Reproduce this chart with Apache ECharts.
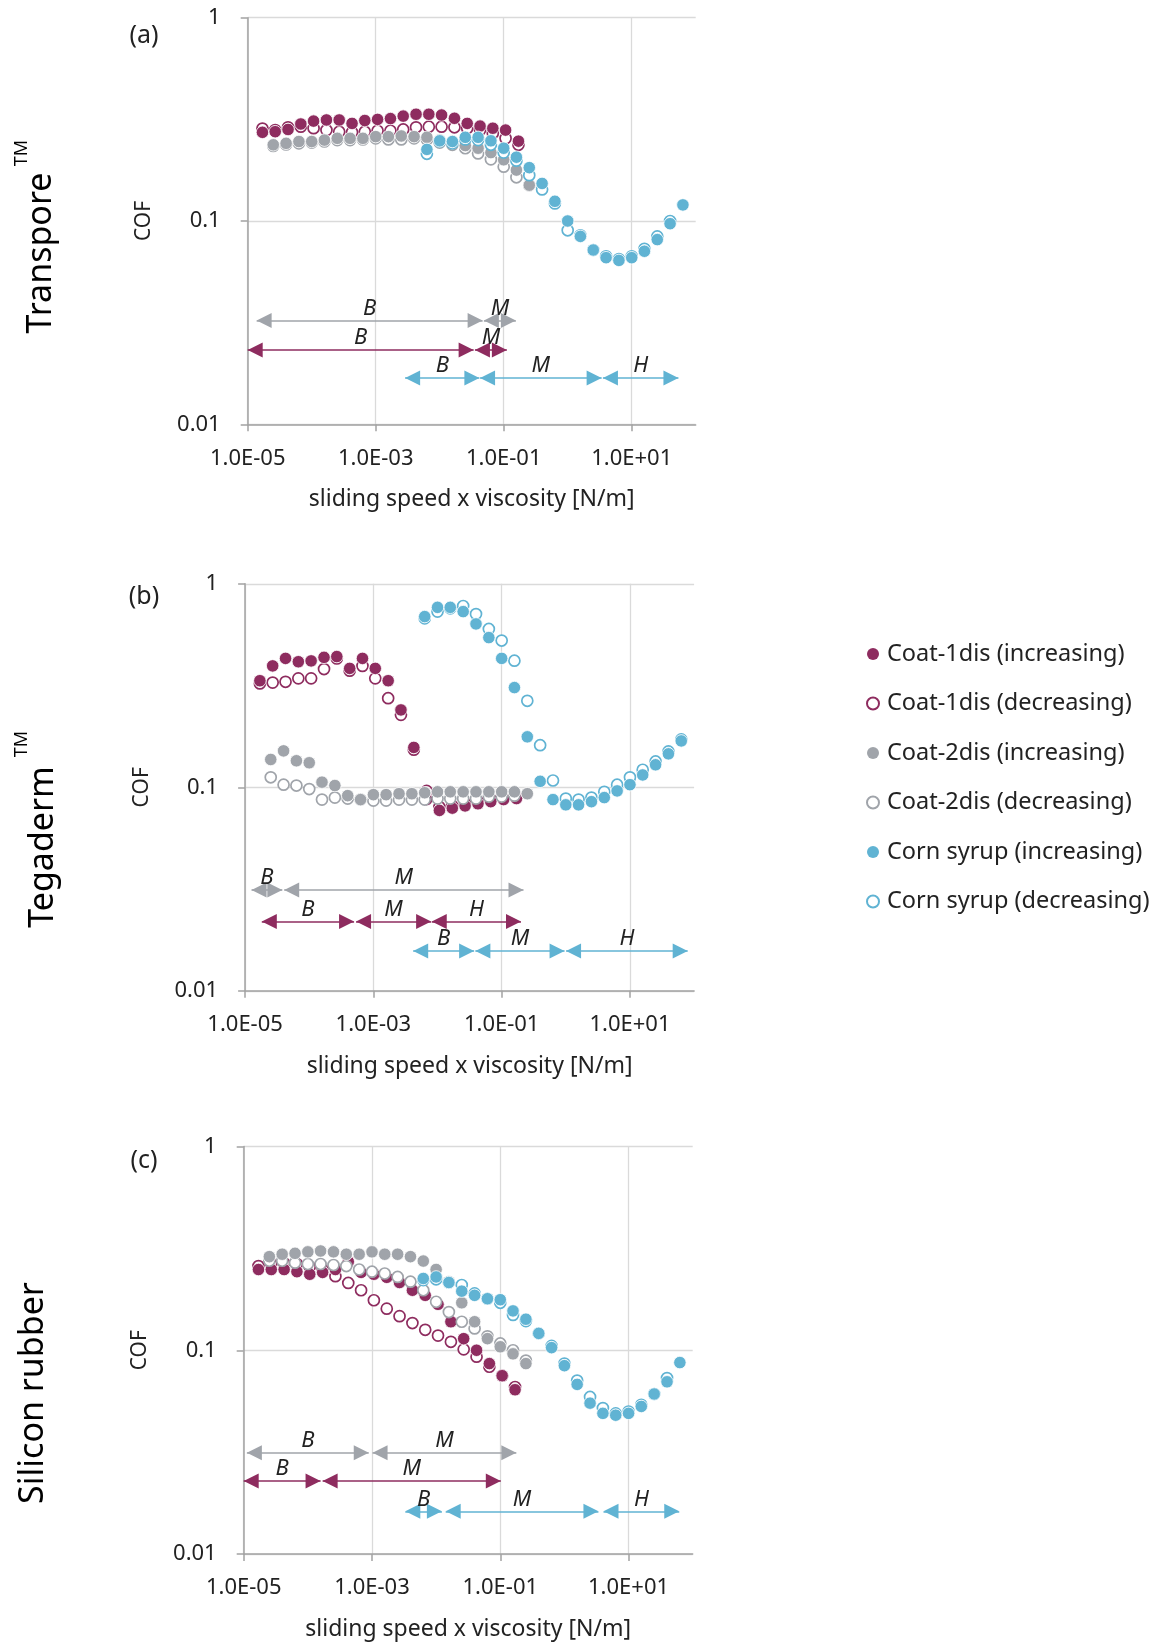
<!DOCTYPE html>
<html>
<head>
<meta charset="utf-8">
<script src="https://cdn.jsdelivr.net/npm/echarts@6/dist/echarts.min.js"></script>
<style>html,body{margin:0;padding:0;background:#fff}#c{width:1155px;height:1643px}</style>
</head>
<body>
<div id="c"></div>
<script>
const FONT = '"Noto Sans", "Open Sans", sans-serif';

// ---- x values: sliding speed x viscosity [N/m] ----
const xCoat1 = [1.70e-5,2.69e-5,4.27e-5,6.76e-5,1.07e-4,1.70e-4,2.69e-4,4.27e-4,6.76e-4,1.07e-3,1.70e-3,2.69e-3,4.27e-3,6.76e-3,1.07e-2,1.70e-2,2.69e-2,4.27e-2,6.76e-2,0.107,0.170];
const xCoat2 = [2.51e-5,3.98e-5,6.31e-5,1.00e-4,1.58e-4,2.51e-4,3.98e-4,6.31e-4,1.00e-3,1.58e-3,2.51e-3,3.98e-3,6.31e-3,1.00e-2,1.58e-2,2.51e-2,3.98e-2,6.31e-2,0.100,0.158,0.251];
const xCorn  = [6.31e-3,1.00e-2,1.58e-2,2.51e-2,3.98e-2,6.31e-2,0.100,0.158,0.251,0.398,0.631,1.00,1.58,2.51,3.98,6.31,10.0,15.8,25.1,39.8,63.1];

// ---- (a) Transpore ----
const a_c1_inc = [0.273,0.275,0.282,0.300,0.310,0.314,0.314,0.302,0.312,0.316,0.319,0.328,0.335,0.335,0.332,0.320,0.302,0.293,0.286,0.280,0.247];
const a_c1_dec = [0.285,0.280,0.289,0.291,0.286,0.280,0.275,0.273,0.275,0.278,0.278,0.282,0.289,0.291,0.291,0.289,0.286,0.280,0.270,0.255,0.237];
const a_c2_inc = [0.237,0.241,0.246,0.246,0.250,0.255,0.255,0.255,0.260,0.260,0.262,0.260,0.258,0.250,0.243,0.235,0.228,0.217,0.200,0.178,0.150];
const a_c2_dec = [0.234,0.238,0.241,0.243,0.246,0.250,0.250,0.252,0.255,0.252,0.252,0.255,0.252,0.243,0.237,0.228,0.215,0.201,0.185,0.164,0.150];
const a_cs_inc = [0.225,0.248,0.246,0.258,0.258,0.248,0.228,0.206,0.183,0.153,0.125,0.100,0.084,0.072,0.066,0.064,0.066,0.071,0.081,0.097,0.120];
const a_cs_dec = [0.214,0.246,0.241,0.252,0.250,0.237,0.217,0.198,0.168,0.143,0.122,0.090,0.085,0.072,0.067,0.065,0.067,0.073,0.084,0.100,null];

// ---- (b) Tegaderm ----
const b_c1_inc = [0.334,0.395,0.430,0.414,0.418,0.435,0.439,0.384,0.430,0.384,0.334,0.240,0.157,0.087,0.077,0.079,0.081,0.083,0.085,0.087,0.088];
const b_c1_dec = [0.324,0.327,0.330,0.343,0.343,0.381,0.430,0.374,0.395,0.343,0.274,0.227,0.153,0.096,0.080,0.081,0.083,0.085,0.087,0.088,0.090];
const b_c2_inc = [0.137,0.151,0.135,0.132,0.106,0.102,0.091,0.087,0.092,0.092,0.093,0.093,0.094,0.095,0.095,0.095,0.095,0.095,0.095,0.095,0.093];
const b_c2_dec = [0.112,0.103,0.102,0.098,0.087,0.089,0.088,0.087,0.086,0.086,0.087,0.087,0.087,0.088,0.088,0.088,0.088,0.090,0.090,0.091,null];
const b_cs_inc = [0.690,0.766,0.766,0.730,0.635,0.544,0.430,0.309,0.177,0.107,0.087,0.082,0.082,0.085,0.089,0.096,0.103,0.115,0.129,0.146,0.169];
const b_cs_dec = [0.677,0.730,0.758,0.778,0.710,0.600,0.526,0.419,0.266,0.161,0.108,0.088,0.087,0.089,0.095,0.103,0.112,0.122,0.134,0.150,0.172];

// ---- (c) Silicon rubber ----
const c_c1_inc = [0.249,0.249,0.249,0.243,0.236,0.241,0.249,0.272,0.241,0.236,0.228,0.215,0.197,0.186,0.168,0.138,0.114,0.100,0.086,0.075,0.064];
const c_c1_dec = [0.259,0.265,0.267,0.265,0.257,0.249,0.231,0.214,0.197,0.176,0.160,0.147,0.136,0.126,0.118,0.110,0.101,0.093,0.083,0.075,0.066];
const c_c2_inc = [0.288,0.296,0.299,0.304,0.307,0.304,0.296,0.296,0.304,0.296,0.296,0.288,0.274,0.249,0.217,0.171,0.138,0.114,0.104,0.096,0.086];
const c_c2_dec = [0.275,0.275,0.269,0.265,0.265,0.262,0.259,0.249,0.243,0.238,0.229,0.217,0.197,0.173,0.154,0.138,0.128,0.117,0.108,0.100,0.089];
const c_cs_inc = [0.225,0.229,0.215,0.195,0.186,0.179,0.177,0.156,0.142,0.121,0.103,0.084,0.068,0.055,0.049,0.048,0.049,0.053,0.061,0.070,0.087];
const c_cs_dec = [0.221,0.223,0.215,0.209,0.190,0.179,0.171,0.149,0.139,0.121,0.105,0.086,0.071,0.059,0.052,0.049,0.050,0.054,0.061,0.073,null];

// ---- lubrication regimes: [material, label, from, to]; material 0=Coat-1dis, 1=Coat-2dis, 2=Corn syrup ----
const rowsA = [0.0232, 0.0324, 0.0169];
const regimesA = [[1,'B',1.38e-5,0.0468],[1,'M',0.049,0.155],[0,'B',1.0e-5,0.0339],[0,'M',0.0355,0.112],[2,'B',0.00288,0.0417],[2,'M',0.0427,3.39],[2,'H',3.55,53.7]];
const rowsB = [0.0219, 0.0313, 0.0157];
const regimesB = [[1,'B',1.26e-5,3.8e-5],[1,'M',4.07e-5,0.219],[0,'B',1.82e-5,5.0e-4],[0,'M',5.37e-4,7.94e-3],[0,'H',8.13e-3,0.2],[2,'B',4.17e-3,0.0372],[2,'M',0.0389,0.955],[2,'H',1.01,79.4]];
const rowsC = [0.0228, 0.0314, 0.0162];
const regimesC = [[1,'B',1.12e-5,8.9e-4],[1,'M',1.02e-3,0.178],[0,'B',1.0e-5,1.58e-4],[0,'M',1.7e-4,0.102],[2,'B',3.31e-3,0.0123],[2,'M',0.0141,3.39],[2,'H',4.07,61.7]];

// ---- axes ----
const xTickValues = [1e-5, 1e-3, 1e-1, 1e1];
const yTickLabels = {'-2':'0.01','-1':'0.1','0':'1'};
const xName = 'sliding speed x viscosity [N/m]';
const yName = 'COF';

const COLORS = ['#8e2c5f', '#a0a4aa', '#60b3d3'];
const NAMES = [['Coat-1dis (increasing)','Coat-1dis (decreasing)'],
               ['Coat-2dis (increasing)','Coat-2dis (decreasing)'],
               ['Corn syrup (increasing)','Corn syrup (decreasing)']];
const xs = [xCoat1, xCoat2, xCorn];

const panels = [
  {inc:[a_c1_inc,a_c2_inc,a_cs_inc], dec:[a_c1_dec,a_c2_dec,a_cs_dec], rows:rowsA, regimes:regimesA},
  {inc:[b_c1_inc,b_c2_inc,b_cs_inc], dec:[b_c1_dec,b_c2_dec,b_cs_dec], rows:rowsB, regimes:regimesB},
  {inc:[c_c1_inc,c_c2_inc,c_cs_inc], dec:[c_c1_dec,c_c2_dec,c_cs_dec], rows:rowsC, regimes:regimesC}
];
const layout = [
  {left:247.7, top:17.7, width:448, height:406.6},
  {left:245.1, top:583.8, width:449, height:407},
  {left:243.7, top:1146.5, width:449, height:407.5}
];

const AXIS_COLOR = '#a3a3a3';
const GRID_COLOR = '#dadada';

function pairs(x, y) {
  const out = [];
  for (let i = 0; i < x.length; i++) if (y[i] != null) out.push([x[i], y[i]]);
  return out;
}
function xFmt(v) {
  const e = Math.round(Math.log10(v));
  return '1.0E' + (e < 0 ? '-' : '+') + String(Math.abs(e)).padStart(2, '0');
}
function yFmt(v) {
  const e = Math.round(Math.log10(v));
  return yTickLabels[String(e)] || '';
}

const grids = [], xAxes = [], yAxes = [], series = [];
panels.forEach((p, pi) => {
  grids.push(Object.assign({outerBoundsMode:'none', containLabel:false}, layout[pi]));
  xAxes.push({
    type:'log', logBase:10, gridIndex:pi, min:1e-5, max:100,
    axisLine:{show:true, onZero:false, lineStyle:{color:AXIS_COLOR, width:1.5}},
    axisTick:{show:true, length:7, customValues:xTickValues, lineStyle:{color:AXIS_COLOR, width:1.5}},
    axisLabel:{customValues:xTickValues, formatter:xFmt, margin:23, fontSize:22, fontFamily:FONT, color:'#222'},
    splitLine:{show:true, lineStyle:{color:GRID_COLOR, width:1.3}},
    minorTick:{show:false}, minorSplitLine:{show:false},
    name:xName, nameLocation:'middle', nameGap:64,
    nameTextStyle:{fontSize:23, fontFamily:FONT, color:'#222'}
  });
  yAxes.push({
    type:'log', logBase:10, gridIndex:pi, min:0.01, max:1,
    axisLine:{show:true, onZero:false, lineStyle:{color:AXIS_COLOR, width:1.5}},
    axisTick:{show:true, length:7, lineStyle:{color:AXIS_COLOR, width:1.5}},
    axisLabel:{formatter:yFmt, margin:27, fontSize:22, fontFamily:FONT, color:'#222'},
    splitLine:{show:true, lineStyle:{color:GRID_COLOR, width:1.3}},
    minorTick:{show:false}, minorSplitLine:{show:false},
    name:yName, nameLocation:'middle', nameGap:93,
    nameTextStyle:{fontSize:21, fontFamily:FONT, color:'#222'}
  });
  for (let m = 0; m < 3; m++) {
    series.push({
      type:'scatter', name:NAMES[m][1], xAxisIndex:pi, yAxisIndex:pi,
      symbol:'circle', symbolSize:11,
      itemStyle:{color:'#ffffff', borderColor:COLORS[m], borderWidth:1.7, opacity:1},
      emphasis:{disabled:true}, data:pairs(xs[m], p.dec[m])
    });
    series.push({
      type:'scatter', name:NAMES[m][0], xAxisIndex:pi, yAxisIndex:pi,
      symbol:'circle', symbolSize:12.5,
      itemStyle:{color:COLORS[m], borderColor:'#ffffff', borderWidth:0.8, opacity:1},
      emphasis:{disabled:true}, data:pairs(xs[m], p.inc[m])
    });
  }
  series.push({
    type:'scatter', name:'regimes-' + pi, xAxisIndex:pi, yAxisIndex:pi, data:[], silent:true,
    markLine:{
      silent:true, animation:false,
      symbol:['triangle','triangle'], symbolSize:[15,15],
      symbolOffset:[[0,'50%'],[0,'50%']],
      emphasis:{disabled:true},
      data: p.regimes.map(r => [
        {coord:[r[2], p.rows[r[0]]],
         lineStyle:{color:COLORS[r[0]], width:1.6, type:'solid'},
         label:{show:true, formatter:r[1], position:'insideMiddleTop', distance:1,
                fontStyle:'italic', fontSize:22, fontFamily:FONT, color:'#222'}},
        {coord:[r[3], p.rows[r[0]]]}
      ])
    }
  });
});

const legendData = [];
for (let m = 0; m < 3; m++) {
  legendData.push({name:NAMES[m][0], icon:'circle', itemStyle:{color:COLORS[m], borderWidth:0}});
  legendData.push({name:NAMES[m][1], icon:'circle', itemStyle:{color:'#ffffff', borderColor:COLORS[m], borderWidth:2}});
}

function vtext(x, y, text, size) {
  return {type:'text', x:x, y:y, rotation:Math.PI/2, silent:true,
          style:{text:text, font:size + 'px ' + FONT, fill:'#000', align:'center', verticalAlign:'middle'}};
}
function htext(x, y, text, size) {
  return {type:'text', x:x, y:y, silent:true,
          style:{text:text, font:size + 'px ' + FONT, fill:'#222', align:'center', verticalAlign:'middle'}};
}

const option = {
  animation:false,
  backgroundColor:'#ffffff',
  textStyle:{fontFamily:FONT},
  grid:grids, xAxis:xAxes, yAxis:yAxes, series:series,
  legend:{
    orient:'vertical', left:866, top:641, padding:0, itemWidth:12, itemHeight:12, itemGap:23.5,
    selectedMode:false, data:legendData,
    textStyle:{fontFamily:FONT, fontSize:23.5, color:'#222', lineHeight:26, padding:[0,0,0,3]}
  },
  graphic:[
    htext(144, 36, '(a)', 25),
    htext(144, 597, '(b)', 25),
    htext(144, 1161, '(c)', 25),
    vtext(41, 253, 'Transpore', 34),
    vtext(22, 153, 'TM', 18),
    vtext(43, 847, 'Tegaderm', 34),
    vtext(22, 744, 'TM', 18),
    vtext(33, 1393, 'Silicon rubber', 34)
  ]
};

const chart = echarts.init(document.getElementById('c'), null, {renderer:'canvas'});
chart.setOption(option);
</script>
</body>
</html>
